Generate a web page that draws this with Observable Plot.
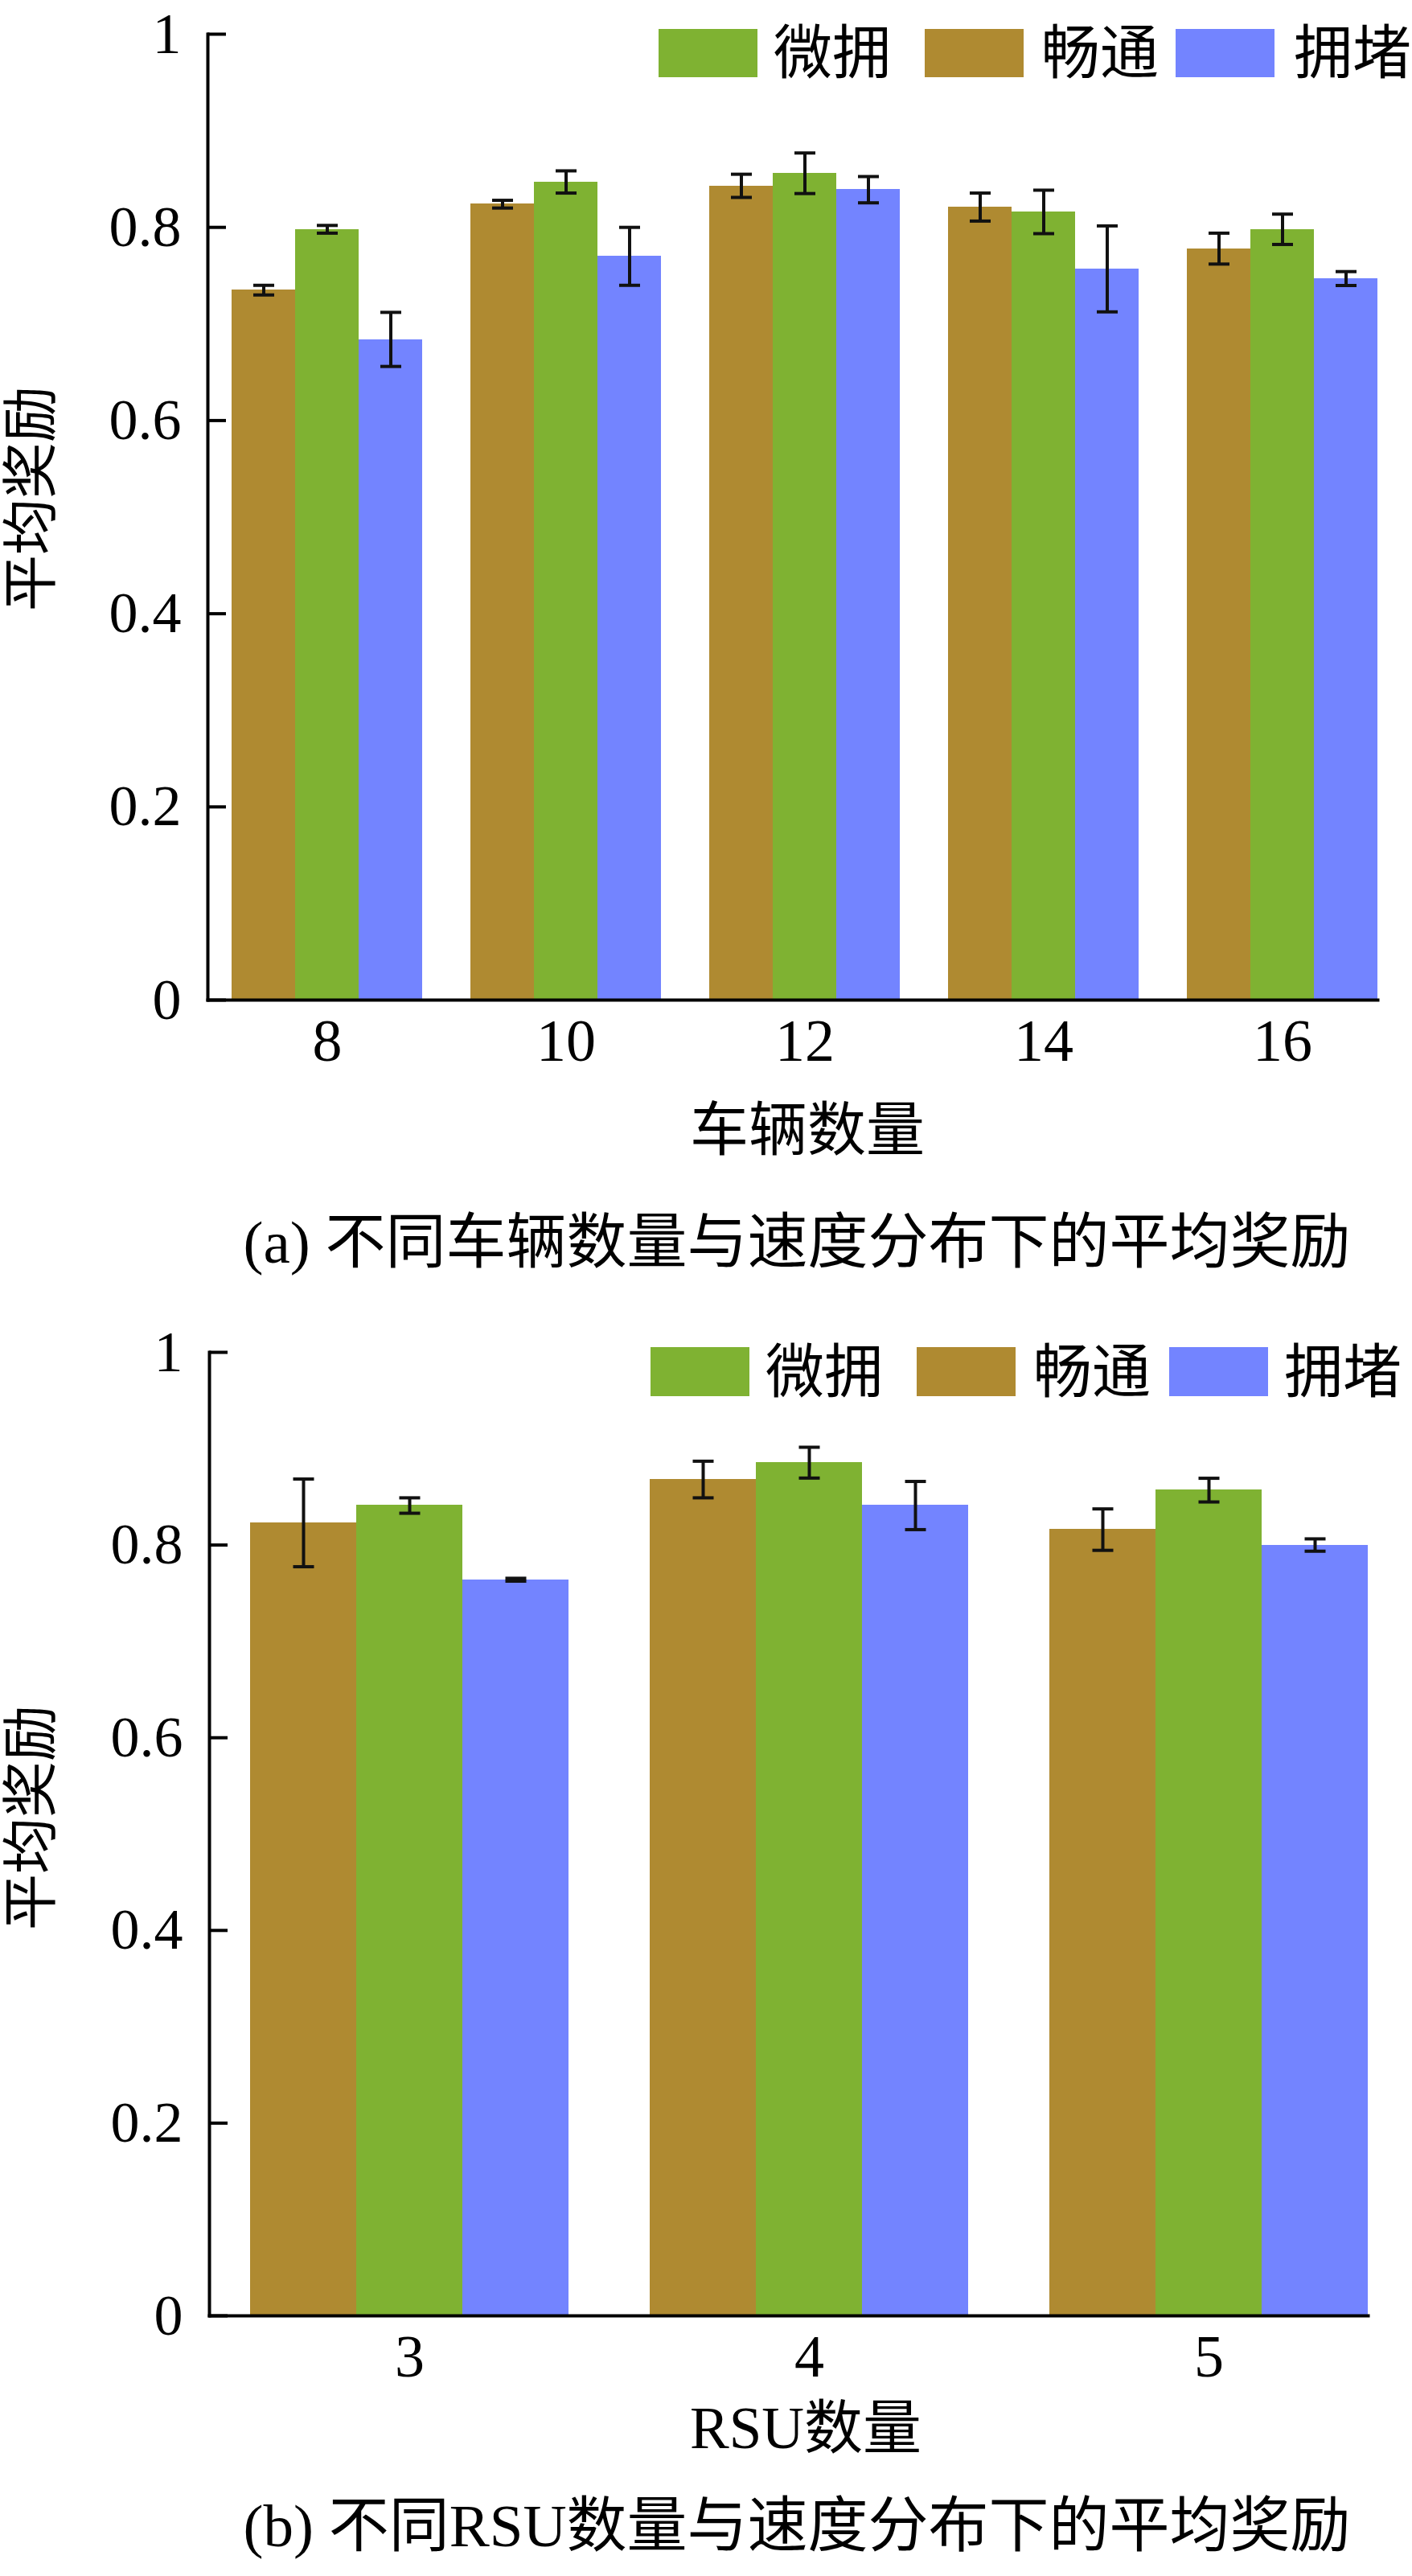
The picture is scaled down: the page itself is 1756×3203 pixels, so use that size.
<!DOCTYPE html>
<html><head><meta charset="utf-8">
<script src="https://cdn.jsdelivr.net/npm/d3@7"></script>
<script src="https://cdn.jsdelivr.net/npm/@observablehq/plot@0.6"></script>
<style>
body{margin:0;background:#fff;}
#page{position:relative;width:1756px;height:3203px;font-family:"Liberation Serif","Noto Sans CJK SC",serif;color:#000;overflow:hidden;}
.panel{position:absolute;left:0;width:1756px;}
.lbl{position:absolute;white-space:nowrap;line-height:1;transform:translate(-50%,-50%);}
.sw{position:absolute;}
.lt{position:absolute;white-space:nowrap;line-height:1;transform:translateY(-50%);font-size:73px;}
</style></head><body><div id="page"></div>
<script>
// ---------- data ----------
const seriesOrder = ["畅通", "微拥", "拥堵"];          // bar order inside each group
const legendOrder = ["微拥", "畅通", "拥堵"];          // legend order
const seriesColors = ["#AF8A31", "#7FB232", "#7384FF"];
const yTicks = [0, 0.2, 0.4, 0.6, 0.8, 1];

// (a) vehicle count
const vehicleCounts = ["8", "10", "12", "14", "16"];
const vehChangtong    = [0.735, 0.824, 0.843, 0.821, 0.778];
const vehChangtongErr = [0.005, 0.004, 0.012, 0.0145, 0.016];
const vehWeiyong      = [0.798, 0.847, 0.856, 0.816, 0.798];
const vehWeiyongErr   = [0.004, 0.0115, 0.021, 0.0225, 0.0157];
const vehYongdu       = [0.684, 0.770, 0.839, 0.757, 0.747];
const vehYongduErr    = [0.028, 0.030, 0.0136, 0.0445, 0.0072];

// (b) RSU count
const rsuCounts = ["3", "4", "5"];
const rsuChangtong    = [0.823, 0.868, 0.816];
const rsuChangtongErr = [0.0455, 0.019, 0.0215];
const rsuWeiyong      = [0.841, 0.8855, 0.857];
const rsuWeiyongErr   = [0.008, 0.016, 0.0123];
const rsuYongdu       = [0.764, 0.841, 0.800];
const rsuYongduErr    = [0.0015, 0.025, 0.0064];

const yLabel = "平均奖励";
const xLabelA = "车辆数量";
const xLabelB = "RSU数量";
const captionA = "(a) 不同车辆数量与速度分布下的平均奖励";
const captionB = "(b) 不同RSU数量与速度分布下的平均奖励";

// ---------- helpers ----------
const FONT = '"Liberation Serif","Noto Sans CJK SC",serif';
function buildRows(groups, vals, errs) {
  const rows = [];
  groups.forEach((g, i) => {
    seriesOrder.forEach((s, k) => {
      rows.push({group: g, series: s, value: vals[k][i], lo: vals[k][i] - errs[k][i], hi: vals[k][i] + errs[k][i]});
    });
  });
  return rows;
}
const capSymbol = {draw(ctx, size) { const r = Math.sqrt(size / Math.PI); ctx.moveTo(-r, 0); ctx.lineTo(r, 0); }};

function makeChart({groups, rows, marginTop, frameHeight, marginLeft, marginRight}) {
  const marginBottom = 100;
  return Plot.plot({
    width: 1756,
    height: marginTop + frameHeight + marginBottom,
    marginTop, marginBottom, marginLeft, marginRight,
    style: {fontFamily: FONT, fontSize: "72px", color: "#000", background: "transparent", overflow: "visible"},
    fx: {domain: groups, paddingInner: 0.1, paddingOuter: 0, axis: null, label: null},
    x: {domain: seriesOrder, paddingInner: 0, paddingOuter: 0.188, align: 1, axis: null, label: null},
    y: {domain: [0, 1], axis: null, label: null},
    color: {domain: seriesOrder, range: seriesColors},
    marks: [
      Plot.barY(rows, {fx: "group", x: "series", y: "value", fill: "series", shapeRendering: "crispEdges"}),
      Plot.ruleX(rows, {fx: "group", x: "series", y1: "lo", y2: "hi", stroke: "#111", strokeWidth: 4}),
      Plot.dot(rows, {fx: "group", x: "series", y: "lo", symbol: capSymbol, r: 13, stroke: "#111", fill: "none", strokeWidth: 4}),
      Plot.dot(rows, {fx: "group", x: "series", y: "hi", symbol: capSymbol, r: 13, stroke: "#111", fill: "none", strokeWidth: 4}),
      Plot.axisY({ticks: yTicks, tickFormat: d => String(d), tickSize: -23, tickPadding: 56, strokeWidth: 4, fontSize: 72, label: null}),
      Plot.frame({anchor: "left", facet: "super", strokeWidth: 4}),
      Plot.frame({anchor: "bottom", facet: "super", strokeWidth: 4}),
      Plot.text(groups, {fx: d => d, x: () => seriesOrder[1], y: () => 0, text: d => d, dy: 52, lineAnchor: "middle", fontSize: 74})
    ]
  });
}

function addText(parent, cls, txt, left, top, size, rotate) {
  const el = document.createElement("div");
  el.className = cls;
  el.textContent = txt;
  el.style.left = left + "px";
  el.style.top = top + "px";
  el.style.fontSize = size + "px";
  if (rotate) el.style.transform = "translate(-50%,-50%) rotate(-90deg)";
  parent.appendChild(el);
  return el;
}
function addLegend(parent, swLefts, txtLefts, top, h) {
  legendOrder.forEach((s, i) => {
    const sw = document.createElement("div");
    sw.className = "sw";
    sw.style.left = swLefts[i] + "px";
    sw.style.top = top + "px";
    sw.style.width = "123px";
    sw.style.height = h + "px";
    sw.style.background = seriesColors[seriesOrder.indexOf(s)];
    parent.appendChild(sw);
    const t = document.createElement("div");
    t.className = "lt";
    t.textContent = s;
    t.style.left = txtLefts[i] + "px";
    t.style.top = (top + h / 2) + "px";
    parent.appendChild(t);
  });
}

const page = document.getElementById("page");

// panel (a)
const pa = document.createElement("div");
pa.className = "panel"; pa.style.top = "0px"; pa.style.height = "1603px";
page.appendChild(pa);
const rowsA = buildRows(vehicleCounts, [vehChangtong, vehWeiyong, vehYongdu], [vehChangtongErr, vehWeiyongErr, vehYongduErr]);
const chartA = makeChart({groups: vehicleCounts, rows: rowsA, marginTop: 42, frameHeight: 1201, marginLeft: 256, marginRight: 40});
chartA.style.position = "absolute"; chartA.style.left = "0px"; chartA.style.top = "0px";
pa.appendChild(chartA);
addLegend(pa, [819, 1150, 1462], [962, 1295, 1609], 36, 60);
addText(pa, "lbl", yLabel, 40, 620, 70, true);
addText(pa, "lbl", xLabelA, 1004, 1405, 73);
addText(pa, "lbl", captionA, 991, 1544, 75);

// panel (b)
const pb = document.createElement("div");
pb.className = "panel"; pb.style.top = "1603px"; pb.style.height = "1600px";
page.appendChild(pb);
const rowsB = buildRows(rsuCounts, [rsuChangtong, rsuWeiyong, rsuYongdu], [rsuChangtongErr, rsuWeiyongErr, rsuYongduErr]);
const chartB = makeChart({groups: rsuCounts, rows: rowsB, marginTop: 78, frameHeight: 1198, marginLeft: 259, marginRight: 54});
chartB.style.position = "absolute"; chartB.style.left = "0px"; chartB.style.top = "0px";
pb.appendChild(chartB);
addLegend(pb, [809, 1140, 1454], [952, 1285, 1597], 72, 61);
addText(pb, "lbl", yLabel, 40, 657, 70, true);
addText(pb, "lbl", xLabelB, 1002, 1416, 73);
addText(pb, "lbl", captionB, 991, 1537, 75);
</script></body></html>
